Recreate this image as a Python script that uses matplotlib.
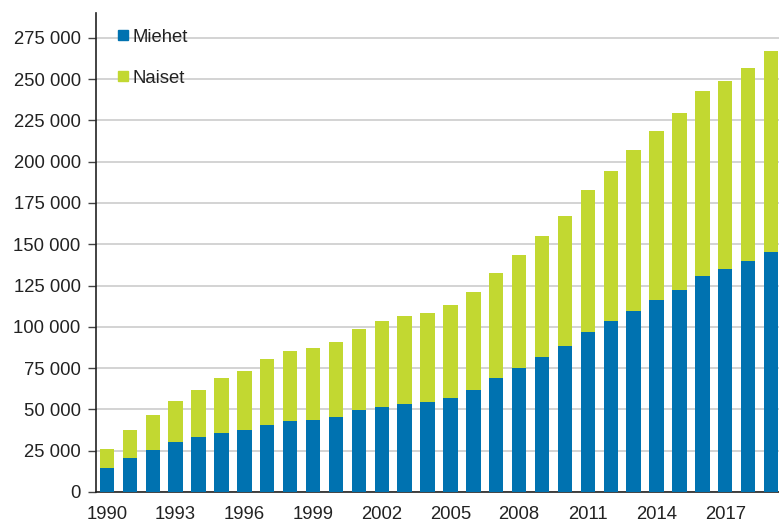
import matplotlib
matplotlib.use("Agg")
import matplotlib.pyplot as plt
from matplotlib.ticker import FuncFormatter
from matplotlib.lines import Line2D
import numpy as np

years = list(range(1990, 2020))
miehet = [14500, 20400, 25200, 30200, 33000, 35900, 37700, 40700, 42700, 43700,
          45700, 49500, 51600, 53400, 54400, 57200, 62000, 68900, 74800, 81600,
          88500, 96900, 103600, 109400, 116300, 122100, 130800, 134800, 139600, 145500]
yhteensa = [26200, 37700, 46500, 55200, 62000, 68900, 73500, 80500, 85400, 87200,
            91000, 98900, 103700, 106500, 108500, 113400, 121000, 132700, 143300, 155000,
            167400, 182900, 194400, 207100, 218800, 229300, 243000, 248800, 256500, 267200]
naiset = [t - m for t, m in zip(yhteensa, miehet)]
series_labels = ["Miehet", "Naiset"]
colors = ["#0072b0", "#c2d831"]

plt.rcParams['font.family'] = ['Liberation Sans', 'DejaVu Sans']
FS = 13.3

fig = plt.figure(figsize=(7.79, 5.24), dpi=100)
ax = fig.add_axes([96/779, (524-492)/524, 1 - 96/779 + 0.003, (492-13)/524])

x = np.arange(len(years))
w = 0.63
ax.bar(x, miehet, width=w, color=colors[0], zorder=3, label=series_labels[0])
ax.bar(x, naiset, width=w, bottom=miehet, color=colors[1], zorder=3, label=series_labels[1])

ax.set_ylim(0, 290000)
ax.set_xlim(-0.48, 29.45)
ax.set_yticks(np.arange(0, 275001, 25000))
ax.yaxis.set_major_formatter(FuncFormatter(lambda v, p: f"{v:,.0f}".replace(",", " ")))
ax.set_xticks(x[::3])
ax.set_xticklabels([str(y) for y in years[::3]])

ax.grid(axis='y', color='#cccccc', linewidth=1.2, zorder=0)
ax.set_axisbelow(True)
for s in ['top', 'right']:
    ax.spines[s].set_visible(False)
ax.spines['left'].set_color('#222222')
ax.spines['bottom'].set_color('#222222')
ax.spines['left'].set_linewidth(1.2)
ax.spines['bottom'].set_linewidth(1.2)
ax.tick_params(axis='y', length=5.5, width=1, color='#444444', labelsize=FS, labelcolor='#222222', pad=5.5)
ax.tick_params(axis='x', length=0, labelsize=FS, labelcolor='#222222', pad=10)

handles = [Line2D([0], [0], marker='s', linestyle='none', markersize=7.2,
                  markerfacecolor=c, markeredgecolor=c) for c in colors]
leg = ax.legend(handles, series_labels, loc='upper left', bbox_to_anchor=(0.031, 0.967),
                frameon=False, fontsize=FS, labelspacing=1.3, handlelength=0.6,
                handletextpad=0.24, borderaxespad=0.0, borderpad=0.0)
for t in leg.get_texts():
    t.set_color('#222222')

fig.savefig("out.png", dpi=100)
